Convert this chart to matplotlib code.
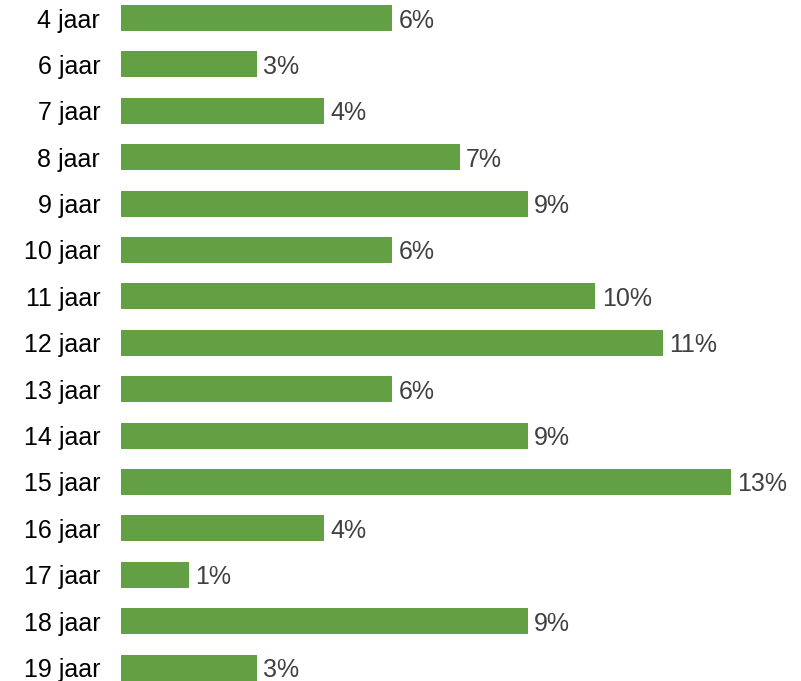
import matplotlib.pyplot as plt

# age groups and number of respondents per group
leeftijden = ['4 jaar', '6 jaar', '7 jaar', '8 jaar', '9 jaar', '10 jaar', '11 jaar',
              '12 jaar', '13 jaar', '14 jaar', '15 jaar', '16 jaar', '17 jaar',
              '18 jaar', '19 jaar']
aantallen = [4, 2, 3, 5, 6, 4, 7, 8, 4, 6, 9, 3, 1, 6, 2]

totaal = sum(aantallen)
percentages = [a / totaal * 100 for a in aantallen]

plt.rcParams['font.family'] = ['Liberation Sans', 'DejaVu Sans']

fig = plt.figure(figsize=(8.01, 6.81), dpi=100)
ax = fig.add_axes([121 / 801, 0, 680 / 801, 1])

pos = list(range(len(leeftijden)))
ax.barh(pos, percentages, height=0.56, color='#63a044', edgecolor='none')

for y, p in zip(pos, percentages):
    ax.annotate(f'{round(p)}%', (p, y), xytext=(4.5, 0), textcoords='offset points',
                ha='left', va='center_baseline', fontsize=18, color='#404040')

ax.set_yticks(pos)
ax.set_yticklabels(leeftijden, fontsize=18, color='black')
ax.tick_params(axis='y', length=0, pad=15)
ax.set_xticks([])
ax.set_xlim(0, 680 / 47.44)
ax.set_ylim(14.29, -0.388)
for s in ax.spines.values():
    s.set_visible(False)

fig.savefig('out.png', dpi=100)
